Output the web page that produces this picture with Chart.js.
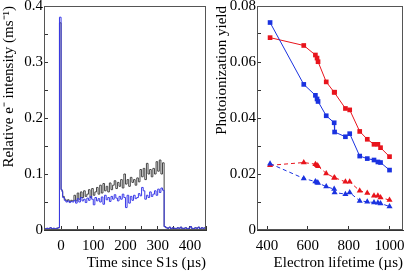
<!DOCTYPE html>
<html><head><meta charset="utf-8">
<script src="https://cdn.jsdelivr.net/npm/chart.js@4"></script>
<style>
html,body{margin:0;padding:0;background:#fff;}
#wrap{position:relative;width:407px;height:275px;overflow:hidden;background:#fff;}
.pane{position:absolute;top:0;height:275px;}
</style></head><body>
<div id="wrap">
<div class="pane" style="left:0;width:212px"><canvas id="c1" width="212" height="275"></canvas></div>
<div class="pane" style="left:213px;width:194px"><canvas id="c2" width="194" height="275"></canvas></div>
</div>
<script>
// ---------- Left panel data (histogram bins, µs) ----------
const timeBins = [-50,-45,-40,-35,-30,-25,-20,-15,-10,-5,
  0,3,5,10,15,20,25,30,35,40,45,50,55,60,65,70,75,80,85,90,95,
  100,105,110,115,120,125,130,135,140,145,150,155,160,165,170,175,180,185,190,195,
  200,205,210,215,220,225,230,235,240,245,250,255,260,265,270,275,280,285,290,295,
  300,305,310,315,320,325,330,335,340,345,350,355,360,365,370,375,380,385,390,395,
  400,405,410,415,420,425,430,435,440,445,450];
const blueIntensity = [0.003,0.002,0.003,0.002,0.004,0.002,0.003,0.002,0.003,0.004,
  0.38,0.072,0.068,0.058,0.053,0.050,0.052,0.049,0.051,0.050,0.053,0.048,0.056,0.050,0.058,0.052,0.055,0.049,0.057,0.053,0.060,
  0.055,0.045,0.058,0.052,0.056,0.050,0.059,0.046,0.062,0.054,0.058,0.051,0.060,0.055,0.063,0.057,0.052,0.060,0.055,0.064,
  0.058,0.040,0.062,0.048,0.060,0.053,0.062,0.056,0.058,0.065,0.061,0.076,0.070,0.055,0.062,0.058,0.068,0.060,0.064,0.070,
  0.062,0.073,0.067,0.075,0.071,0.006,0.004,0.003,0.005,0.002,0.004,0.003,0.002,0.004,0.003,0.005,0.002,0.003,0.004,0.002,
  0.003,0.006,0.003,0.002,0.004,0.003,0.005,0.002,0.004,0.003,0.004];
const grayIntensity = [0.003,0.002,0.003,0.002,0.004,0.002,0.003,0.002,0.003,0.004,
  0.37,0.072,0.070,0.060,0.055,0.052,0.054,0.051,0.053,0.052,0.062,0.052,0.066,0.055,0.068,0.058,0.070,0.060,0.064,0.072,0.058,
  0.074,0.062,0.068,0.076,0.064,0.080,0.066,0.083,0.070,0.078,0.068,0.084,0.072,0.080,0.088,0.074,0.085,0.078,0.090,0.075,
  0.100,0.082,0.090,0.078,0.094,0.085,0.090,0.080,0.093,0.086,0.108,0.095,0.110,0.090,0.119,0.100,0.108,0.095,0.110,0.100,
  0.122,0.105,0.125,0.100,0.120,0.006,0.004,0.003,0.005,0.002,0.004,0.003,0.002,0.004,0.003,0.005,0.002,0.003,0.004,0.002,
  0.003,0.006,0.003,0.002,0.004,0.003,0.005,0.002,0.004,0.003,0.004];
const leftXTicks = [-50,0,50,100,150,200,250,300,350,400,450];
const leftXLabels = ['','0','','100','','200','','300','','400',''];
const leftYTicks = [0,0.05,0.1,0.15,0.2,0.25,0.3,0.35,0.4];
const leftYLabels = ['0','','0.1','','0.2','','0.3','','0.4'];

// ---------- Right panel data ----------
const lifetimes = [415,580,637,645,650,690,729,731,784,805,854,891,924,943,956,1000];
const redSquares = [0.0687,0.0659,0.0625,0.0614,0.0601,0.0529,0.0492,0.0492,0.0434,0.0429,0.0352,0.0324,0.0306,0.0306,0.0294,0.0262];
const blueSquares = [0.0741,0.0520,0.0481,0.0468,0.0459,0.0408,0.0383,0.0350,0.0333,0.0344,0.0264,0.0255,0.0250,0.0243,0.0241,0.0214];
const redTriangles = [0.0231,0.0241,0.0235,0.0231,0.0228,0.0202,0.0187,0.0187,0.0172,0.0172,0.0140,0.0132,0.0122,0.0122,0.0116,0.0107];
const blueTriangles = [0.0237,0.0184,0.0173,0.0170,0.0168,0.0155,0.0146,0.0134,0.0128,0.0134,0.0104,0.0101,0.0098,0.0097,0.0095,0.0084];
const rightXTicks = [400,600,800,1000];
const rightXLabels = ['400','600','800','1000'];
const rightYTicks = [0,0.01,0.02,0.03,0.04,0.05,0.06,0.07,0.08];
const rightYLabels = ['0','','0.02','','0.04','','0.06','','0.08'];

const FONT = "'Liberation Serif','Times New Roman',serif";
const FS = 15;
const AX = '#333';

function axis(pos, min, max, tickVals, tickLabels, title, size){
  const horiz = pos === 'bottom';
  return {
    type:'linear', position:pos, min:min, max:max,
    afterBuildTicks: s => { s.ticks = tickVals.map(v => ({value:v})); },
    afterFit: s => {
      if (horiz) { s.height = size; s.paddingLeft = 0; s.paddingRight = 0; }
      else { s.width = size; s.paddingTop = 0; s.paddingBottom = 0; }
    },
    grid:{drawOnChartArea:false, drawTicks:true, tickLength:-4, color:AX, lineWidth:1},
    border:{display:true, color:AX, width:1},
    ticks:{padding: horiz ? 11 : 5, color:'#000', font:{family:FONT, size:FS}, autoSkip:false, maxRotation:0,
      callback: (v, i) => tickLabels[i]},
    title:{display:true, text:title, align:'end', color:'#000', font:{family:FONT, size:FS},
      padding: horiz ? {top:0, bottom:3} : {top:0, bottom:0}}
  };
}

const frame = {id:'frame', afterDatasetsDraw(chart){
  const {ctx, chartArea:a} = chart;
  ctx.save(); ctx.strokeStyle = '#555'; ctx.lineWidth = 1;
  ctx.strokeRect(Math.round(a.left)+0.5, Math.round(a.top)+0.5, Math.round(a.right-a.left)-1, Math.round(a.bottom-a.top)-1);
  ctx.restore();
}};

const common = {responsive:false, animation:false, devicePixelRatio:1,
  plugins:{legend:{display:false}, tooltip:{enabled:false}}};

new Chart(document.getElementById('c1'), {
  type:'line',
  data:{datasets:[
    {data: timeBins.map((t,i)=>({x:t, y:blueIntensity[i]})), borderColor:'#3a3ae8', borderWidth:1, pointRadius:0, stepped:'after'},
    {data: timeBins.map((t,i)=>({x:t, y:grayIntensity[i]})), borderColor:'#444444', borderWidth:1, pointRadius:0, stepped:'after'}
  ]},
  options:Object.assign({}, common, {
    layout:{padding:{top:6, right:6, left:0, bottom:0}},
    scales:{
      x: axis('bottom', -53, 450, leftXTicks, leftXLabels, 'Time since S1s (\u00b5s)', 45),
      y: axis('left', 0, 0.4, leftYTicks, leftYLabels, 'Relative e\u207b intensity (ms\u207b\u00b9)', 44)
    }
  }),
  plugins:[frame]
});

const RED = '#e8141c', BLUE = '#1a32e0';
function ser(vals, color, style, dash, r){
  return {data: lifetimes.map((x,i)=>({x:x, y:vals[i]})), borderColor:color, backgroundColor:color,
    borderWidth:1, pointStyle:style, pointRadius:r, pointBorderWidth:0, borderDash:dash, tension:0};
}
new Chart(document.getElementById('c2'), {
  type:'line',
  data:{datasets:[
    ser(blueSquares, BLUE, 'rect', [], 3.3),
    ser(redSquares, RED, 'rect', [], 3.3),
    ser(blueTriangles, BLUE, 'triangle', [4,3], 3.5),
    ser(redTriangles, RED, 'triangle', [4,3], 3.5)
  ]},
  options:Object.assign({}, common, {
    layout:{padding:{top:6, right:3, left:0, bottom:0}},
    scales:{
      x: axis('bottom', 351, 1066, rightXTicks, rightXLabels, 'Electron lifetime (\u00b5s)', 45),
      y: axis('left', 0, 0.08, rightYTicks, rightYLabels, 'Photoionization yield', 44)
    }
  }),
  plugins:[frame]
});
</script>
</body></html>
